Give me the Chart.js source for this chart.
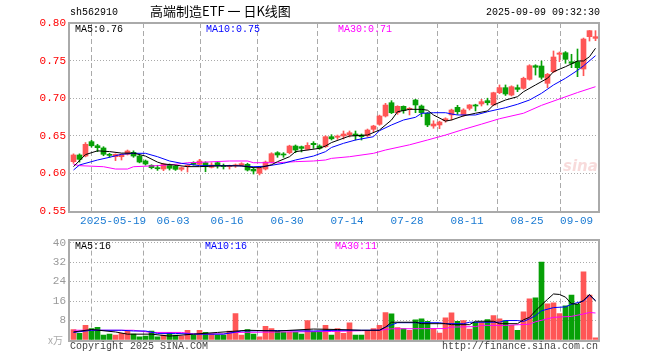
<!DOCTYPE html>
<html>
<head>
<meta charset="utf-8">
<script src="https://cdn.jsdelivr.net/npm/chart.js@4/dist/chart.umd.min.js"></script>
<style>
body{margin:0;background:#fff;width:660px;height:360px;position:relative;overflow:hidden;font-family:'Liberation Mono',monospace;}
canvas{position:absolute;left:0;}
.t{position:absolute;white-space:pre;font-size:10px;line-height:12px;}
.box{position:absolute;border:2px solid #aaa;box-sizing:border-box;pointer-events:none;}
</style>
</head>
<body>
<canvas id="kChart" width="660" height="232" style="top:0"></canvas>
<canvas id="volChart" width="660" height="128" style="top:232px"></canvas>
<div class="box" style="left:68px;top:22px;width:532px;height:191px"></div>
<div class="box" style="left:68px;top:239px;width:532px;height:103px"></div>

<div class="t" style="left:70px;top:7px">sh562910</div>
<div class="t" style="left:150px;top:3px;font-family:'Noto Sans CJK SC';font-size:13px;line-height:16px">高端制造ETF 一 日K线图</div>
<div class="t" style="right:60px;top:7px">2025-09-09 09:32:30</div>
<div class="t" style="left:75px;top:24px;color:#000">MA5:0.76</div>
<div class="t" style="left:206px;top:24px;color:#00f">MA10:0.75</div>
<div class="t" style="left:338px;top:24px;color:#f0f">MA30:0.71</div>
<div class="t" style="left:75px;top:241px;color:#000">MA5:16</div>
<div class="t" style="left:205px;top:241px;color:#00f">MA10:16</div>
<div class="t" style="left:335px;top:241px;color:#f0f">MA30:11</div>
<div class="t" style="left:48px;top:334px;color:#aaa;font-family:'Noto Sans CJK SC'">x万</div>
<div class="t" style="left:70px;top:341px;color:#444">Copyright 2025 SINA.COM</div>
<div class="t" style="right:62px;top:341px;color:#444">http://finance.sina.com.cn</div>
<div class="t" style="left:563px;top:160px;font-family:'DejaVu Sans';font-size:15px;font-weight:bold;font-style:italic;color:rgba(225,90,90,0.22)">sina</div>

<script>
// x tick labels and the candle index they sit on
var dateLabels = ['2025-05-19', '06-03', '06-16', '06-30', '07-14', '07-28', '08-11', '08-25', '09-09'];
var dateIdx = [7, 17, 26, 36, 46, 56, 66, 76, 87];

var open = [0.6156,0.6245,0.6231,0.6422,0.6368,0.6338,0.6254,0.6222,0.6222,0.6254,
  0.6280,0.6231,0.6165,0.6108,0.6076,0.6058,0.6112,0.6098,0.6054,0.6090,
  0.6142,0.6120,0.6142,0.6081,0.6142,0.6103,0.6090,0.6100,0.6107,0.6121,
  0.6054,0.6001,0.6058,0.6151,0.6275,0.6254,0.6275,0.6364,0.6355,0.6320,
  0.6400,0.6364,0.6355,0.6488,0.6480,0.6497,0.6510,0.6524,0.6510,0.6501,
  0.6586,0.6653,0.6763,0.6940,0.6807,0.6892,0.6852,0.6976,0.6896,0.6799,
  0.6630,0.6644,0.6700,0.6777,0.6879,0.6777,0.6865,0.6910,0.6923,0.6967,
  0.6910,0.7073,0.7140,0.7042,0.7140,0.7131,0.7251,0.7432,0.7428,0.7198,
  0.7352,0.7584,0.7605,0.7485,0.7485,0.7388,0.7818,0.7796];
var close = [0.6245,0.6187,0.6387,0.6368,0.6342,0.6254,0.6240,0.6254,0.6254,0.6298,
  0.6231,0.6151,0.6125,0.6076,0.6062,0.6125,0.6068,0.6054,0.6076,0.6108,
  0.6120,0.6165,0.6089,0.6112,0.6098,0.6090,0.6100,0.6112,0.6129,0.6045,
  0.6032,0.6068,0.6151,0.6262,0.6245,0.6245,0.6364,0.6311,0.6333,0.6373,
  0.6382,0.6333,0.6488,0.6460,0.6497,0.6524,0.6541,0.6500,0.6488,0.6577,
  0.6630,0.6763,0.6909,0.6807,0.6892,0.6834,0.6865,0.6910,0.6807,0.6644,
  0.6657,0.6683,0.6727,0.6843,0.6820,0.6843,0.6910,0.6896,0.6954,0.6940,
  0.7073,0.7140,0.7056,0.7153,0.7118,0.7265,0.7432,0.7411,0.7278,0.7318,
  0.7548,0.7601,0.7517,0.7464,0.7406,0.7787,0.7898,0.7818];
var high = [0.6260,0.6260,0.6410,0.6440,0.6387,0.6355,0.6267,0.6260,0.6260,0.6311,
  0.6300,0.6245,0.6178,0.6115,0.6108,0.6135,0.6125,0.6110,0.6085,0.6115,
  0.6155,0.6187,0.6155,0.6142,0.6155,0.6125,0.6110,0.6125,0.6142,0.6135,
  0.6085,0.6085,0.6165,0.6275,0.6289,0.6276,0.6375,0.6378,0.6364,0.6408,
  0.6422,0.6380,0.6500,0.6515,0.6510,0.6564,0.6564,0.6564,0.6524,0.6590,
  0.6640,0.6775,0.6932,0.6967,0.6900,0.6898,0.6875,0.6985,0.6910,0.6810,
  0.6700,0.6695,0.6740,0.6855,0.6905,0.6860,0.6916,0.6920,0.6985,0.7000,
  0.7080,0.7176,0.7176,0.7165,0.7176,0.7280,0.7445,0.7445,0.7495,0.7330,
  0.7628,0.7615,0.7620,0.7584,0.7654,0.7800,0.7900,0.7898];
var low = [0.6134,0.6150,0.6220,0.6350,0.6289,0.6235,0.6214,0.6169,0.6178,0.6245,
  0.6214,0.6140,0.6110,0.6060,0.6040,0.6036,0.6045,0.6040,0.6032,0.6018,
  0.6110,0.6110,0.6022,0.6072,0.6070,0.6058,0.6058,0.6080,0.6100,0.6032,
  0.5992,0.5979,0.6045,0.6140,0.6214,0.6214,0.6260,0.6275,0.6285,0.6310,
  0.6333,0.6320,0.6345,0.6444,0.6453,0.6457,0.6484,0.6444,0.6444,0.6490,
  0.6555,0.6640,0.6750,0.6795,0.6785,0.6800,0.6777,0.6807,0.6754,0.6621,
  0.6600,0.6595,0.6680,0.6710,0.6785,0.6760,0.6843,0.6830,0.6896,0.6910,
  0.6900,0.7060,0.7036,0.7030,0.7087,0.7120,0.7240,0.7308,0.7252,0.7140,
  0.7340,0.7485,0.7464,0.7406,0.7286,0.7299,0.7760,0.7765];

// volume, unit 万
var volume = [4.3,2.7,6.0,4.7,5.2,2.0,2.4,2.0,2.7,3.7,
  2.4,1.3,1.6,3.7,1.3,2.0,3.1,2.0,1.6,4.0,
  2.0,4.0,3.1,2.4,2.0,2.0,3.7,10.9,2.0,4.3,
  2.4,1.3,5.6,4.7,3.7,3.3,3.3,3.1,2.4,8.0,
  3.3,3.3,6.0,2.0,4.7,2.7,7.1,2.0,2.0,4.0,
  4.7,6.0,11.3,10.7,5.1,4.7,4.0,8.3,8.7,7.7,
  4.7,2.8,9.1,11.2,7.7,8.0,4.5,7.3,7.3,8.4,
  10.0,8.7,8.0,6.0,4.0,11.6,16.9,17.3,32.0,14.9,
  15.3,10.9,14.0,18.4,14.7,28.0,18.4,0.9];

// moving average lines: candle index / value
var ma5Idx = [0,2,4,6,8,10,12,14,15,17,19,21,24,28,30,31,33,34,36,37,39,41,42,43,46,49,51,53,54,56,58,59,60,62,63,65,67,69,70,72,74,75,77,79,80,82,84,85,86,87];
var ma5Val = [0.609,0.625,0.630,0.629,0.627,0.627,0.623,0.615,0.6125,0.611,0.609,0.609,0.610,0.610,0.6076,0.6076,0.6115,0.6156,0.6222,0.6289,0.6311,0.6333,0.6364,0.641,0.6497,0.651,0.6577,0.671,0.682,0.6852,0.6852,0.684,0.6777,0.6695,0.671,0.6765,0.680,0.683,0.691,0.6976,0.702,0.7086,0.7176,0.7265,0.7352,0.7419,0.7495,0.7495,0.7552,0.7664];
var ma10Idx = [0,1,4,6,8,10,12,14,16,18,21,27,30,32,35,37,40,42,43,45,47,50,51,53,55,57,58,60,62,63,64,67,69,72,74,76,78,80,82,84,85,87];
var ma10Val = [0.6045,0.6112,0.6178,0.6214,0.6254,0.6267,0.6267,0.6222,0.6165,0.6134,0.6103,0.6103,0.6089,0.6095,0.6134,0.6178,0.6231,0.6289,0.6345,0.640,0.6444,0.6488,0.6568,0.6644,0.671,0.6746,0.6799,0.6807,0.6807,0.679,0.6777,0.6777,0.682,0.6874,0.6919,0.6976,0.7065,0.7176,0.7265,0.737,0.743,0.7565];
var ma30Idx = [0,1,5,7,9,10,14,17,19,21,26,29,30,34,37,40,42,43,46,50,52,56,59,62,65,68,71,75,78,81,84,87];
var ma30Val = [0.6121,0.6103,0.6089,0.6058,0.6058,0.6089,0.6103,0.6121,0.6142,0.6147,0.6165,0.6165,0.6142,0.6142,0.6156,0.6165,0.6178,0.620,0.6222,0.6267,0.6311,0.638,0.6444,0.651,0.6585,0.6655,0.6727,0.680,0.6905,0.699,0.7075,0.7153];

var vma5Idx = [0,3,7,9,13,16,20,24,29,34,40,44,48,51,52,53,57,58,62,63,66,67,70,71,74,75,76,77,79,80,81,82,83,84,85,86,87];
var vma5Val = [3.3,4.3,3.3,2.4,2.4,1.6,2.4,3.1,4.0,3.7,4.5,4.3,4.0,4.0,5.3,7.3,7.3,6.7,6.7,6.3,6.3,7.7,7.7,6.7,6.7,8.3,9.3,12,16.7,18.9,18.7,17.6,14.9,14.7,16.3,18.7,16];
var vma10Idx = [0,3,8,10,12,14,17,20,25,28,34,40,44,51,52,54,61,62,65,66,71,72,74,75,76,77,78,80,82,83,85,86,87];
var vma10Val = [3.1,4.0,4.0,3.7,3.7,2.7,2.7,2.4,2.4,3.7,3.9,3.7,4.0,4.0,5.3,7.1,7.1,6.7,6.7,7.3,7.3,8.0,8.0,7.6,8.7,10,12,13.3,13.6,14.7,16,18.4,16.3];
var vma30Idx = [0,10,13,18,20,25,27,43,51,53,62,63,67,68,72,76,77,80,83,85,86,87];
var vma30Val = [4.0,4.0,3.1,3.1,2.5,2.5,3.1,3.5,4.0,4.6,4.7,5.3,5.5,6.0,6.0,6.5,7.5,9.3,9.7,10.7,11.3,11.1];

var RED = '#ff5656', GREEN = '#07a007';
var FONT = 'Liberation Mono';
var candleColor = open.map(function (o, i) { return close[i] >= o ? RED : GREEN; });

function pts(idx, val) {
  return idx.map(function (x, i) { return {x: x, y: val[i]}; });
}
function maLine(idx, val, color) {
  return {type: 'line', data: pts(idx, val), borderColor: color, borderWidth: 1,
    pointRadius: 0, tension: 0, fill: false};
}

// shift half a pixel so 5px bodies land on whole pixels
var xMin = -0.5 - 0.5 / 6, xMax = 87.5 - 0.5 / 6;
var tickAt = dateIdx.map(function (i) { return i - 0.4; });

function xScale(showLabels, h) {
  return {
    type: 'linear', min: xMin, max: xMax, offset: false,
    afterBuildTicks: function (s) {
      s.ticks = [{value: xMin}].concat(tickAt.map(function (v) { return {value: v}; }));
    },
    afterFit: function (s) { s.height = h; },
    ticks: {
      display: showLabels, autoSkip: false, maxRotation: 0, align: 'inner', padding: 3,
      color: '#1b7bd3', font: {family: FONT, size: 11},
      callback: function (v, i) { return i === 0 ? '' : dateLabels[i - 1]; }
    },
    grid: {color: function (c) { return c.index === 0 ? 'transparent' : '#aaa'; }, drawTicks: false, lineWidth: 1},
    border: {display: false, dash: [5, 3]}
  };
}

var wicks = open.map(function (o, i) { return {x: i, y: [low[i], high[i]]}; });
var bodies = open.map(function (o, i) { return {x: i, y: [o, close[i]]}; });

new Chart(document.getElementById('kChart'), {
  type: 'bar',
  data: {
    datasets: [
      maLine(ma5Idx, ma5Val, '#000'),
      maLine(ma10Idx, ma10Val, '#00f'),
      maLine(ma30Idx, ma30Val, '#f0f'),
      {data: bodies, backgroundColor: candleColor, barThickness: 5, minBarLength: 1, grouped: false, borderWidth: 0},
      {data: wicks, backgroundColor: candleColor, barThickness: 1, grouped: false, borderWidth: 0}
    ]
  },
  options: {
    responsive: false, animation: false, devicePixelRatio: 1,
    layout: {padding: {left: 0, right: 62, top: 23, bottom: 0}},
    plugins: {legend: {display: false}, tooltip: {enabled: false}},
    scales: {
      x: xScale(true, 21),
      y: {
        min: 0.55, max: 0.80,
        afterFit: function (s) { s.width = 70; },
        ticks: {stepSize: 0.05, padding: 4, color: '#f00', font: {family: FONT, size: 11},
          callback: function (v) { return v.toFixed(2); }},
        grid: {color: '#aaa', drawTicks: false},
        border: {display: false, dash: [1, 2]}
      }
    }
  }
});

var vols = volume.map(function (v, i) { return {x: i, y: v}; });

new Chart(document.getElementById('volChart'), {
  type: 'bar',
  data: {
    datasets: [
      maLine(vma5Idx, vma5Val, '#000'),
      maLine(vma10Idx, vma10Val, '#00f'),
      maLine(vma30Idx, vma30Val, '#f0f'),
      {data: vols, backgroundColor: candleColor, barThickness: 5, grouped: false, borderWidth: 0}
    ]
  },
  options: {
    responsive: false, animation: false, devicePixelRatio: 1,
    layout: {padding: {left: 0, right: 62, top: 8, bottom: 0}},
    plugins: {legend: {display: false}, tooltip: {enabled: false}},
    scales: {
      x: xScale(false, 20),
      y: {
        min: 0, max: 40,
        afterFit: function (s) { s.width = 70; },
        ticks: {stepSize: 8, padding: 4, color: '#999', font: {family: FONT, size: 11},
          callback: function (v) { return v === 0 ? '' : v; }},
        grid: {color: '#aaa', drawTicks: false},
        border: {display: false, dash: [1, 2]}
      }
    }
  }
});
</script>
</body>
</html>
